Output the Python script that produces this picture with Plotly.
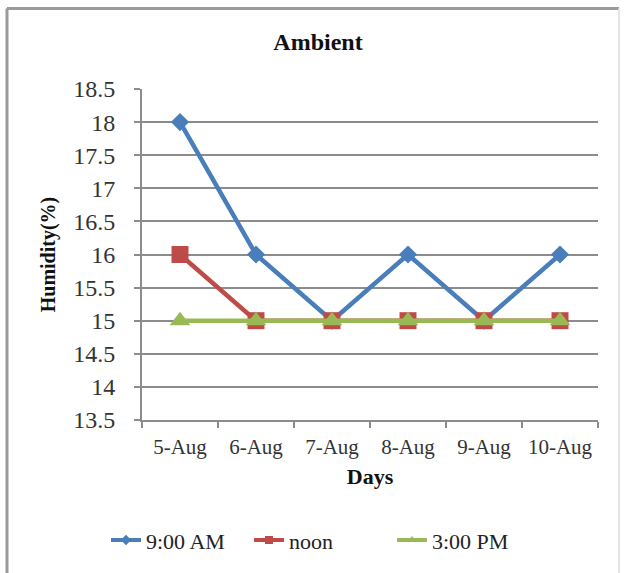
import plotly.graph_objects as go

days = ["5-Aug", "6-Aug", "7-Aug", "8-Aug", "9-Aug", "10-Aug"]
am_9 = [18, 16, 15, 16, 15, 16]
noon = [16, 15, 15, 15, 15, 15]
pm_3 = [15, 15, 15, 15, 15, 15]
y_ticks = [13.5, 14, 14.5, 15, 15.5, 16, 16.5, 17, 17.5, 18, 18.5]
y_labels = ["13.5", "14", "14.5", "15", "15.5", "16", "16.5", "17", "17.5", "18", "18.5"]

SERIF = "Liberation Serif, Times New Roman, serif"
W, H = 626, 573
L, R, T, B = 142, 28, 89, 151
PW, PH = W - L - R, H - T - B


def px(x):
    return (x - L) / PW


def py(y):
    return (H - B - y) / PH


series = [
    ("9:00 AM", am_9, "#4A7EBB", "diamond", 14),
    ("noon", noon, "#BE4B48", "square", 17),
    ("3:00 PM", pm_3, "#98B954", "triangle-up", 18),
]

fig = go.Figure()
for name, vals, col, sym, size in series:
    fig.add_trace(go.Scatter(
        x=days, y=vals, name=name, mode="lines+markers", showlegend=False,
        legendgroup=name,
        line=dict(color=col, width=4.5),
        marker=dict(symbol=sym, size=size, color=col),
    ))
# legend keys use a small marker on the line, as in spreadsheet-style charts
for name, vals, col, sym, size in series:
    fig.add_trace(go.Scatter(
        x=[None], y=[None], name=name, mode="lines+markers", legendgroup=name,
        line=dict(color=col, width=4),
        marker=dict(symbol=sym, size=8, color=col),
    ))

# outer chart frame
frame = [
    (7, 8, 7, 580, "#9a9a9a", 3),
    (7, 8, 619, 8, "#9a9a9a", 3),
    (619, 8, 619, 580, "#e4e4e4", 2),
]
shapes = [
    dict(type="line", xref="paper", yref="paper",
         x0=px(a), y0=py(b), x1=px(c), y1=py(d),
         line=dict(color=c2, width=w), layer="below")
    for a, b, c, d, c2, w in frame
]

fig.update_layout(
    width=W, height=H,
    margin=dict(l=L, r=R, t=T, b=B),
    paper_bgcolor="white", plot_bgcolor="white",
    font=dict(family=SERIF, color="#222222"),
    title=dict(text="<b>Ambient</b>", x=318 / W, xanchor="center",
               y=1 - 42 / H, yanchor="middle", font=dict(size=24, family=SERIF, color="#111")),
    xaxis=dict(
        type="category", range=[-0.5, 5.5], showgrid=False,
        showline=True, linecolor="#8c8c8c", linewidth=2,
        ticks="outside", tickson="boundaries", ticklen=6, tickcolor="#8c8c8c", tickwidth=2,
        tickfont=dict(size=21, family=SERIF, color="#333"),
        ticklabelstandoff=7,
        title=dict(text="<b>Days</b>", font=dict(size=22, family=SERIF, color="#111"), standoff=10),
    ),
    yaxis=dict(
        range=[13.5, 18.5], tickvals=y_ticks, ticktext=y_labels,
        showgrid=True, gridcolor="#8c8c8c", gridwidth=2,
        showline=True, linecolor="#8c8c8c", linewidth=2,
        ticks="outside", ticklen=6, tickcolor="#8c8c8c", tickwidth=2,
        tickfont=dict(size=24, family=SERIF, color="#333"),
        ticklabelstandoff=14,
        zeroline=False,
        title=dict(text="<b>Humidity(%)</b>", font=dict(size=20, family=SERIF, color="#111"), standoff=12),
    ),
    legend=dict(
        orientation="h", x=px(106), xanchor="left", y=py(543), yanchor="middle",
        font=dict(size=22, family=SERIF, color="#222"),
        entrywidth=98, entrywidthmode="pixels",
        traceorder="normal", bgcolor="rgba(0,0,0,0)",
    ),
    shapes=shapes,
)

fig.write_html("out.html")
